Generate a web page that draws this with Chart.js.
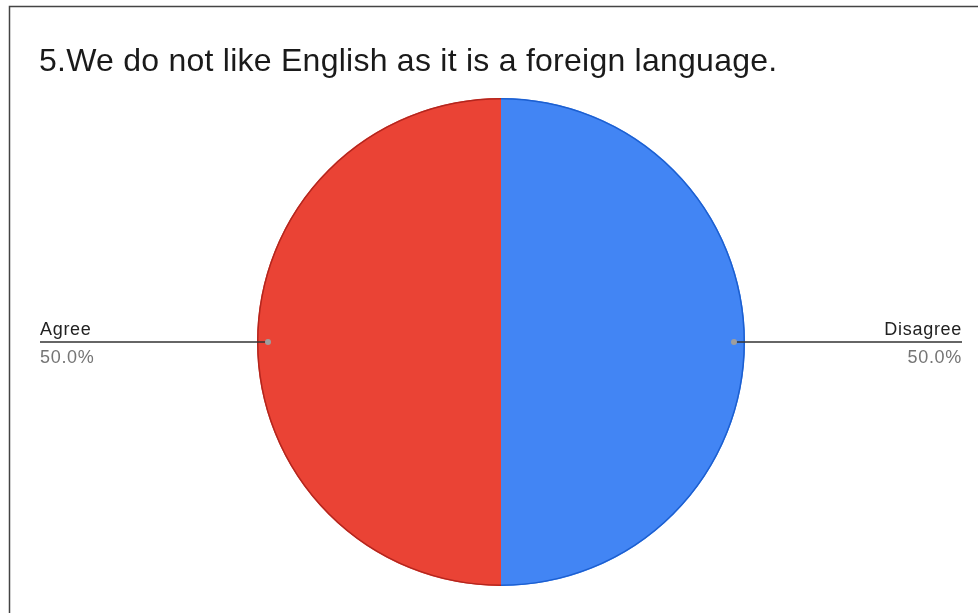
<!DOCTYPE html>
<html>
<head>
<meta charset="utf-8">
<script src="https://cdn.jsdelivr.net/npm/chart.js@4/dist/chart.umd.min.js"></script>
<style>
  html, body { margin: 0; padding: 0; background: #fff; }
  #wrap { width: 978px; height: 613px; }
</style>
</head>
<body>
<div id="wrap"><canvas id="myChart" width="978" height="613"></canvas></div>
<script>
const titleText = '5.We do not like English as it is a foreign language.';
const labels = ['Agree', 'Disagree'];
const values = [50, 50];
const fillColors = ['#ea4335', '#4285f4'];
const edgeColors = ['#b3261e', '#1c5fd0'];

// frame, title, outer rim and leader-line labels
const decorations = {
  id: 'decorations',
  beforeDraw(chart) {
    const c = chart.ctx;
    c.save();
    c.strokeStyle = '#444';
    c.lineWidth = 1.5;
    c.beginPath();
    c.moveTo(9.5, 613);
    c.lineTo(9.5, 6.5);
    c.lineTo(978, 6.5);
    c.stroke();
    c.fillStyle = '#1a1a1a';
    c.font = '32px "Liberation Sans", Arial, sans-serif';
    c.letterSpacing = '0.25px';
    c.textBaseline = 'alphabetic';
    c.fillText(titleText, 39, 71);
    c.restore();
  },
  afterDatasetsDraw(chart) {
    const c = chart.ctx;
    const meta = chart.getDatasetMeta(0);
    const total = values.reduce((a, b) => a + b, 0);
    meta.data.forEach((arc, i) => {
      const p = arc.getProps(['x', 'y', 'startAngle', 'endAngle', 'outerRadius']);
      // darker rim on the outer edge only
      c.save();
      c.strokeStyle = edgeColors[i];
      c.lineWidth = 1.5;
      c.beginPath();
      c.arc(p.x, p.y, p.outerRadius - 0.75, p.startAngle, p.endAngle);
      c.stroke();
      c.restore();

      const mid = (p.startAngle + p.endAngle) / 2;
      const dx = p.x + Math.cos(mid) * (p.outerRadius - 11);
      const dy = p.y + Math.sin(mid) * (p.outerRadius - 11);
      const left = Math.cos(mid) < 0;
      const edgeX = left ? 40 : 962;
      const pct = (values[i] / total * 100).toFixed(1) + '%';

      c.save();
      c.strokeStyle = '#333';
      c.lineWidth = 1.5;
      c.beginPath();
      c.moveTo(edgeX, dy);
      c.lineTo(dx, dy);
      c.stroke();
      c.fillStyle = '#9e9e9e';
      c.beginPath();
      c.arc(dx, dy, 3, 0, Math.PI * 2);
      c.fill();
      c.font = '18px "Liberation Sans", Arial, sans-serif';
      c.letterSpacing = '0.7px';
      c.textAlign = left ? 'left' : 'right';
      c.fillStyle = '#222';
      c.textBaseline = 'alphabetic';
      c.fillText(labels[i], edgeX, dy - 7);
      c.fillStyle = '#757575';
      c.fillText(pct, edgeX, dy + 21);
      c.restore();
    });
  }
};

new Chart(document.getElementById('myChart').getContext('2d'), {
  type: 'pie',
  data: {
    labels: labels,
    datasets: [{
      data: values,
      backgroundColor: fillColors,
      borderWidth: 0
    }]
  },
  options: {
    responsive: false,
    animation: false,
    rotation: 180,
    layout: { padding: { left: 257, right: 233, top: 98, bottom: 27 } },
    plugins: {
      legend: { display: false },
      tooltip: { enabled: false },
      title: { display: false }
    }
  },
  plugins: [decorations]
});
</script>
</body>
</html>
